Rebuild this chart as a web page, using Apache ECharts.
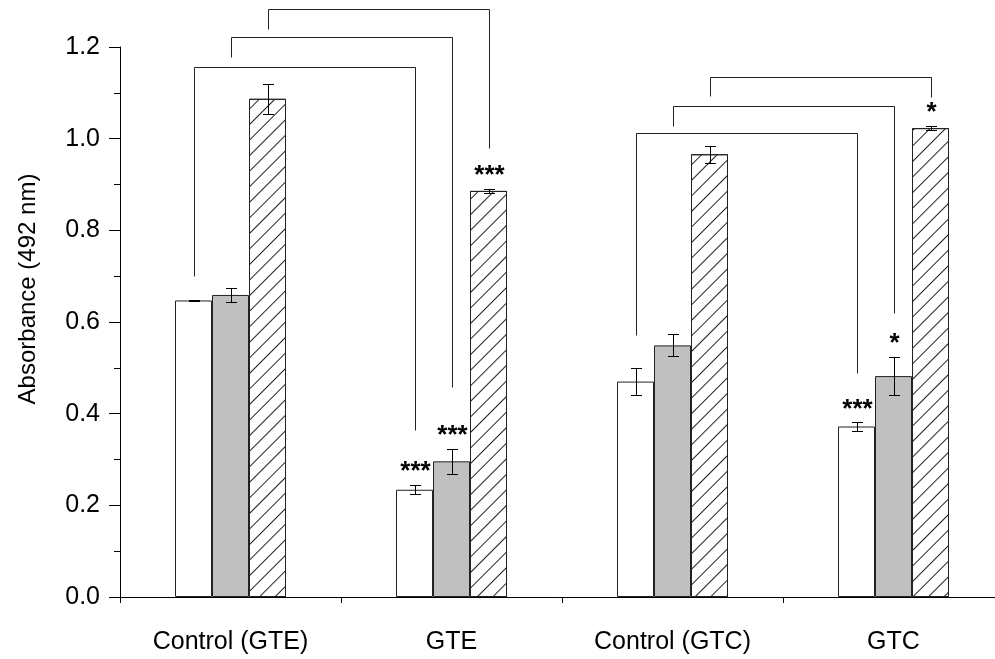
<!DOCTYPE html>
<html><head><meta charset="utf-8">
<script src="https://cdn.jsdelivr.net/npm/echarts@6/dist/echarts.min.js"></script>
<style>html,body{margin:0;padding:0;background:#fff}#c{width:995px;height:659px}</style>
</head><body><div id="c"></div>
<script>
// ---- data ----
const categories = ['Control (GTE)', 'GTE', 'Control (GTC)', 'GTC'];
const whiteMeans = [0.647, 0.234, 0.470, 0.372];
const whiteErr   = [0.001, 0.010, 0.029, 0.009];
const grayMeans  = [0.659, 0.296, 0.549, 0.482];
const grayErr    = [0.015, 0.027, 0.024, 0.042];
const hatchMeans = [1.087, 0.886, 0.966, 1.023];
const hatchErr   = [0.033, 0.004, 0.019, 0.005];
const whiteStars = ['', '***', '', '***'];
const grayStars  = ['', '***', '', '*'];
const hatchStars = ['', '***', '', '*'];
// brackets: [fromCategory, toCategory, seriesIndex, yTop, yLeftEnd, yRightEnd]
const brackets = [
  [0, 1, 0, 1.156, 0.70, 0.364],
  [0, 1, 1, 1.222, 1.178, 0.458],
  [0, 1, 2, 1.283, 1.239, 0.980],
  [2, 3, 0, 1.012, 0.572, 0.489],
  [2, 3, 1, 1.071, 1.028, 0.62],
  [2, 3, 2, 1.135, 1.093, 1.091]
];

// ---- style ----
const BAR_W = 37;
const FONT = 'Arial, "Liberation Sans", sans-serif';
const meansAll = [whiteMeans, grayMeans, hatchMeans];
const errAll = [whiteErr, grayErr, hatchErr];
const starsAll = [whiteStars, grayStars, hatchStars];

const errData = [];
for (let s = 0; s < 3; s++) for (let c = 0; c < categories.length; c++) errData.push([c, meansAll[s][c], errAll[s][c], s]);

function crisp(v) { return Math.round(v) + 0.5; }

const chart = echarts.init(document.getElementById('c'), null, {renderer: 'canvas'});
const barBorder = {borderColor: '#222', borderWidth: 1};
chart.setOption({
  animation: false,
  backgroundColor: '#fff',
  grid: {left: 120, width: 884, top: 47, bottom: 62, containLabel: false, outerBoundsMode: 'none'},
  xAxis: {
    type: 'category', data: categories,
    axisLine: {lineStyle: {color: '#000', width: 1}},
    axisTick: {show: true, length: 6, lineStyle: {color: '#000'}},
    axisLabel: {fontFamily: FONT, fontSize: 25, color: '#000', margin: 33}
  },
  yAxis: {
    type: 'value', min: 0, max: 1.2, interval: 0.2,
    name: 'Absorbance (492 nm)', nameLocation: 'middle', nameGap: 80,
    nameTextStyle: {fontFamily: FONT, fontSize: 24, color: '#000', padding: [0, 0, 0, 66]},
    axisLine: {show: true, lineStyle: {color: '#000', width: 1}},
    axisTick: {show: true, length: 11, lineStyle: {color: '#000'}},
    minorTick: {show: true, splitNumber: 2, length: 6, lineStyle: {color: '#000'}},
    splitLine: {show: false},
    axisLabel: {fontFamily: FONT, fontSize: 25, color: '#000', margin: 20, formatter: v => v.toFixed(1)}
  },
  series: [
    {type: 'bar', name: 'white', data: whiteMeans, barWidth: BAR_W, barGap: '0%', itemStyle: Object.assign({color: '#fff'}, barBorder)},
    {type: 'bar', name: 'gray', data: grayMeans, barWidth: BAR_W, barGap: '0%', itemStyle: Object.assign({color: '#c0c0c0'}, barBorder)},
    {type: 'bar', name: 'hatched', data: hatchMeans, barWidth: BAR_W, barGap: '0%', itemStyle: Object.assign({color: '#fff', decal: {symbol: 'rect', symbolSize: 1, dashArrayX: [1, 0], dashArrayY: [1, 10], rotation: -Math.PI / 4, color: '#222'}}, barBorder)},
    {
      type: 'custom', name: 'errors', data: errData, clip: false, z: 5,
      renderItem: function (params, api) {
        const c = api.value(0), m = api.value(1), e = api.value(2), s = api.value(3);
        const off = (s - 1) * BAR_W;
        const pT = api.coord([c, m + e]), pB = api.coord([c, m - e]);
        const x = crisp(pT[0] + off);
        const yT = crisp(pT[1]), yB = crisp(pB[1]);
        const ls = {stroke: '#000', lineWidth: 1};
        const children = [
          {type: 'line', shape: {x1: x, y1: yT, x2: x, y2: yB}, style: ls},
          {type: 'line', shape: {x1: x - 5.5, y1: yT, x2: x + 5.5, y2: yT}, style: ls},
          {type: 'line', shape: {x1: x - 5.5, y1: yB, x2: x + 5.5, y2: yB}, style: ls}
        ];
        const st = starsAll[s][c];
        if (st) children.push({type: 'text', style: {text: st, x: x, y: pT[1] - 13, align: 'center', verticalAlign: 'middle', font: 'bold 26px ' + FONT, fill: '#000'}});
        return {type: 'group', children: children};
      }
    },
    {
      type: 'custom', name: 'brackets', data: brackets, clip: false, z: 5,
      renderItem: function (params, api) {
        const b = brackets[params.dataIndex];
        const off = (b[2] - 1) * BAR_W;
        const pL = api.coord([b[0], b[4]]), pT = api.coord([b[0], b[3]]), pR = api.coord([b[1], b[5]]);
        const xL = crisp(pL[0] + off), xR = crisp(pR[0] + off), yT = crisp(pT[1]);
        return {type: 'polyline', shape: {points: [[xL, crisp(pL[1])], [xL, yT], [xR, yT], [xR, crisp(pR[1])]]}, style: {stroke: '#222', lineWidth: 1, fill: null}};
      }
    }
  ]
});
</script></body></html>
